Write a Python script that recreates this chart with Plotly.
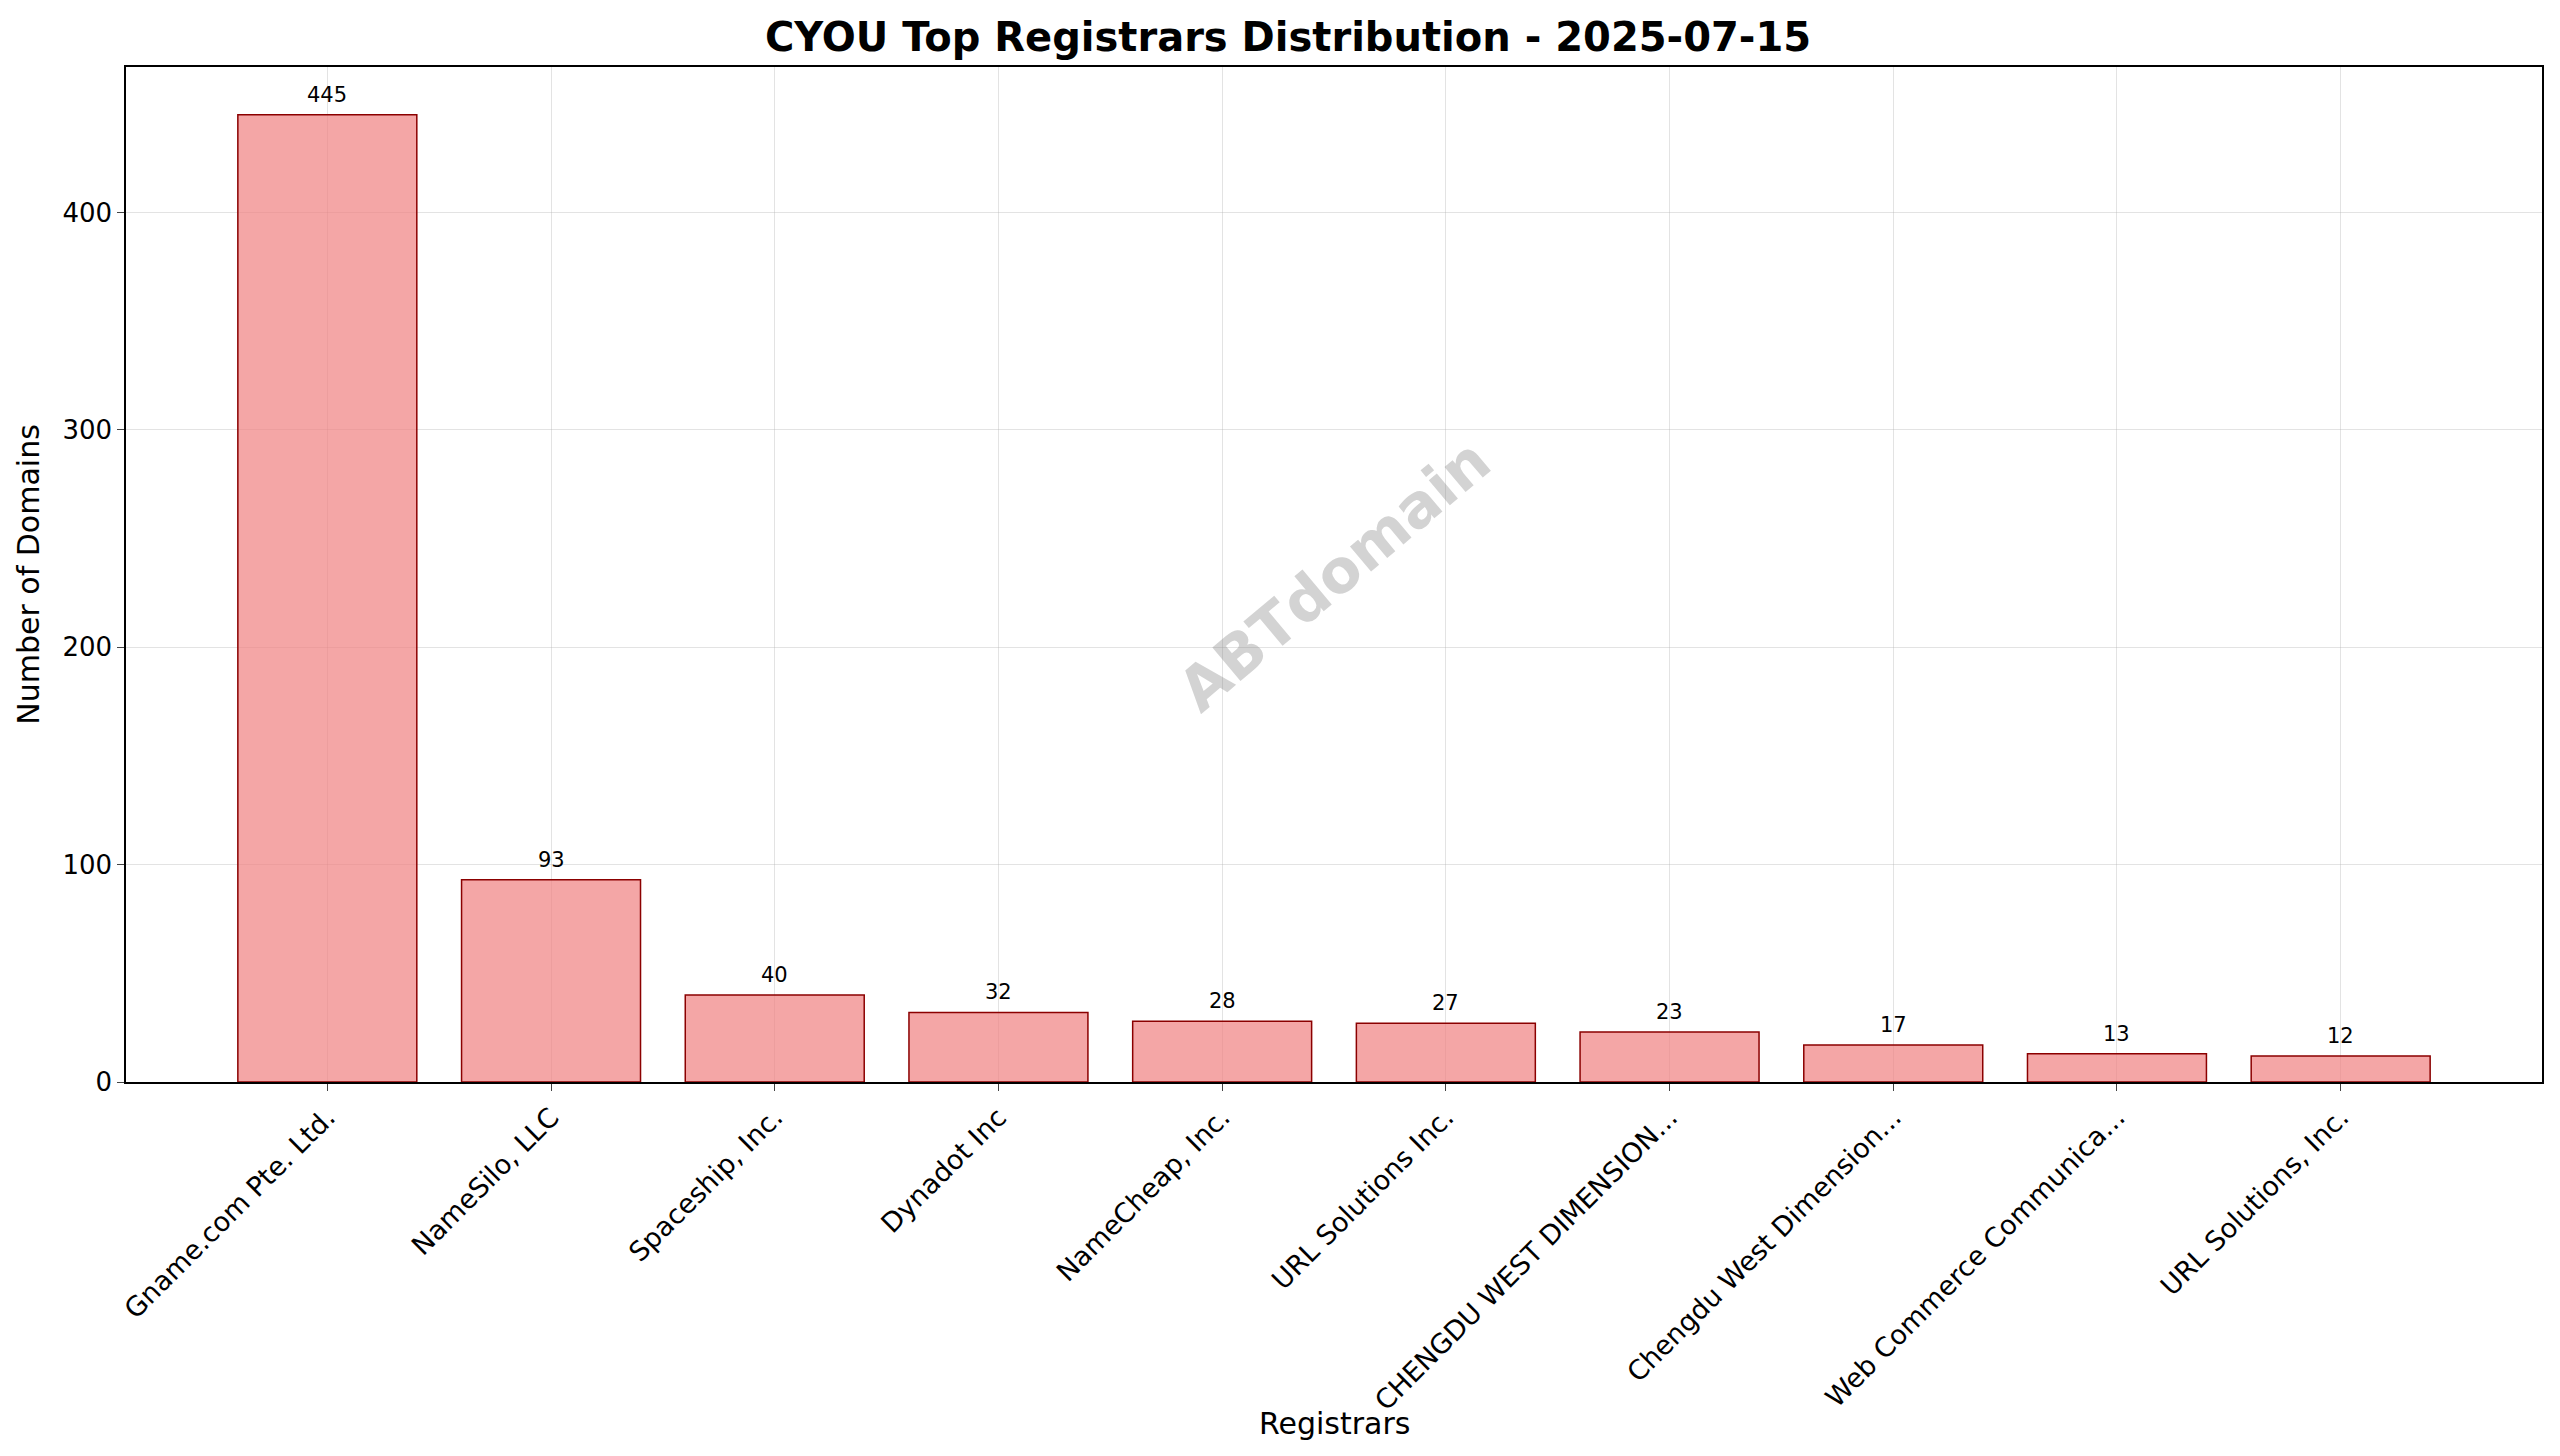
import plotly.graph_objects as go

registrars = ["Gname.com Pte. Ltd.", "NameSilo, LLC", "Spaceship, Inc.", "Dynadot Inc",
              "NameCheap, Inc.", "URL Solutions Inc.", "CHENGDU WEST DIMENSION...",
              "Chengdu West Dimension...", "Web Commerce Communica...", "URL Solutions, Inc."]
counts = [445, 93, 40, 32, 28, 27, 23, 17, 13, 12]

F = "DejaVu Sans"
fig = go.Figure()
fig.add_trace(go.Bar(
    x=list(range(len(registrars))), y=counts, width=0.8,
    marker=dict(color="rgba(240,128,128,0.7)", line=dict(color="#8b0000", width=1.5)),
    hoverinfo="skip",
))
for i, c in enumerate(counts):
    fig.add_annotation(x=i, y=c, text=str(c), showarrow=False, yanchor="bottom", yshift=6,
                       font=dict(family=F, size=21, color="black"))
fig.add_annotation(text="<b>ABTdomain</b>", x=0.5, y=0.5, xref="paper", yref="paper",
                   showarrow=False, textangle=-40,
                   font=dict(family=F, size=60, color="rgba(128,128,128,0.35)"))
fig.add_annotation(text="Registrars", x=0.5, y=-0.336, xref="paper", yref="paper",
                   showarrow=False, yanchor="middle", font=dict(family=F, size=30, color="black"))
fig.update_layout(
    width=2560, height=1456, plot_bgcolor="white", paper_bgcolor="white",
    margin=dict(l=118, r=26, t=59, b=382),
    title=dict(text="<b>CYOU Top Registrars Distribution - 2025-07-15</b>", x=0.5, xanchor="center",
               y=0.99, yanchor="top", font=dict(family=F, size=40, color="black")),
    font=dict(family=F, color="black"),
    showlegend=False,
    xaxis=dict(range=[-0.9, 9.9], tickvals=list(range(len(registrars))), ticktext=registrars,
               tickangle=-45, tickfont=dict(size=27), ticks="outside", ticklen=7,
               showgrid=True, gridcolor="rgba(176,176,176,0.35)", showline=True, linecolor="black",
               linewidth=1.5, mirror=True, zeroline=False),
    yaxis=dict(range=[0, 467], tickvals=[0, 100, 200, 300, 400], tickfont=dict(size=26),
               ticks="outside", ticklen=7, showgrid=True, gridcolor="rgba(176,176,176,0.35)",
               showline=True, linecolor="black", linewidth=1.5, mirror=True, zeroline=False,
               title=dict(text="Number of Domains", font=dict(size=30), standoff=14)),
)
fig.write_html("out.html")
